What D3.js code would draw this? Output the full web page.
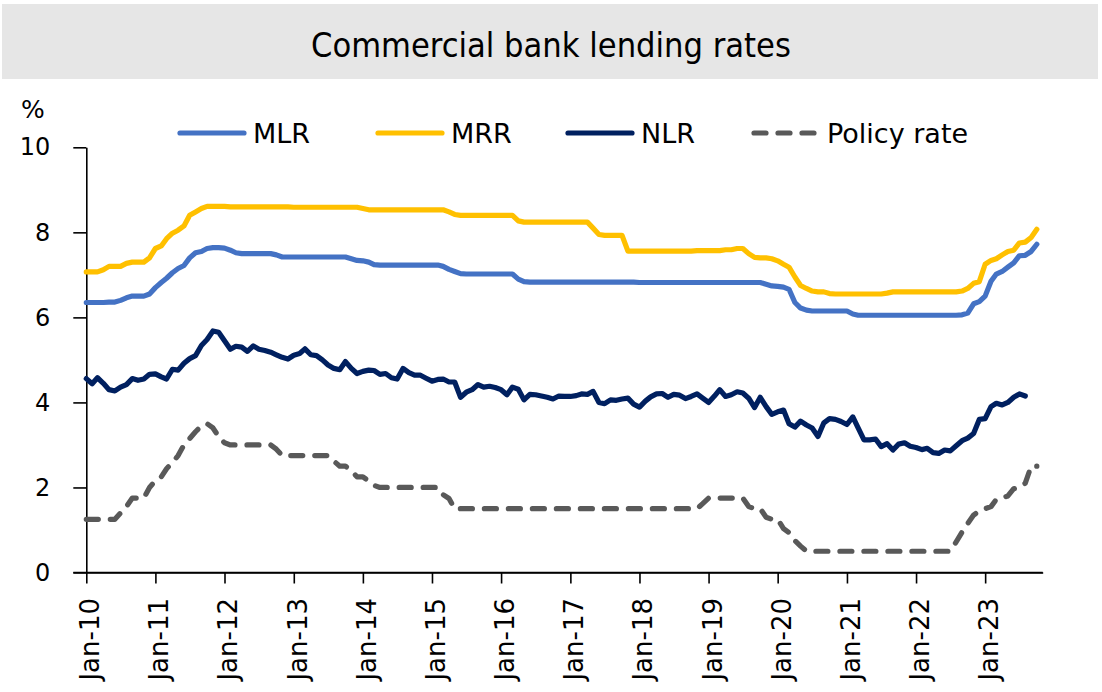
<!DOCTYPE html>
<html><head><meta charset="utf-8">
<script src="https://cdn.jsdelivr.net/npm/d3@7"></script>
<style>
html,body{margin:0;padding:0;background:#fff;}
svg{display:block;}
text{font-family:"DejaVu Sans",sans-serif;fill:#000;}
</style></head><body>
<svg id="chart" width="1102" height="692"></svg>
<script>
// ---------------- DATA ----------------
const chartTitle = "Commercial bank lending rates";
const unitLabel = "%";
const seriesNames = ["MLR", "MRR", "NLR", "Policy rate"];
const yTickValues = [0, 2, 4, 6, 8, 10];
const xTickLabels = ["Jan-10","Jan-11","Jan-12","Jan-13","Jan-14","Jan-15","Jan-16","Jan-17","Jan-18","Jan-19","Jan-20","Jan-21","Jan-22","Jan-23"];
const firstMonth = "2010-01";   // monthly observations start here
const axisEndMonth = "2023-11";

const mlr = [
6.35,6.35,6.35,6.35,6.36,6.36,6.40,6.46,6.50,6.50,6.50,6.55,
6.70,6.82,6.92,7.05,7.15,7.22,7.40,7.52,7.55,7.62,7.64,7.64,
7.63,7.58,7.52,7.50,7.50,7.50,7.50,7.50,7.50,7.47,7.42,7.42,
7.42,7.42,7.42,7.42,7.42,7.42,7.42,7.42,7.42,7.42,7.38,7.34,
7.33,7.30,7.24,7.23,7.23,7.23,7.23,7.23,7.23,7.23,7.23,7.23,
7.23,7.23,7.20,7.13,7.08,7.03,7.02,7.02,7.02,7.02,7.02,7.02,
7.02,7.02,7.02,6.90,6.84,6.83,6.83,6.83,6.83,6.83,6.83,6.83,
6.83,6.83,6.83,6.83,6.83,6.83,6.83,6.83,6.83,6.83,6.83,6.83,
6.82,6.82,6.82,6.82,6.82,6.82,6.82,6.82,6.82,6.82,6.82,6.82,
6.82,6.82,6.82,6.82,6.82,6.82,6.82,6.82,6.82,6.82,6.78,6.74,
6.73,6.71,6.66,6.35,6.22,6.17,6.15,6.15,6.15,6.15,6.15,6.15,
6.15,6.08,6.05,6.05,6.05,6.05,6.05,6.05,6.05,6.05,6.05,6.05,
6.05,6.05,6.05,6.05,6.05,6.05,6.05,6.05,6.06,6.10,6.32,6.37,
6.50,6.85,7.02,7.08,7.18,7.28,7.45,7.46,7.55,7.72
];
const mrr = [
7.07,7.07,7.07,7.12,7.20,7.20,7.20,7.27,7.30,7.30,7.30,7.40,
7.62,7.68,7.85,7.98,8.05,8.15,8.40,8.48,8.56,8.61,8.61,8.61,
8.61,8.60,8.60,8.60,8.60,8.60,8.60,8.60,8.60,8.60,8.60,8.60,
8.59,8.59,8.59,8.59,8.59,8.59,8.59,8.59,8.59,8.59,8.59,8.59,
8.56,8.53,8.53,8.53,8.53,8.53,8.53,8.53,8.53,8.53,8.53,8.53,
8.53,8.53,8.53,8.48,8.42,8.40,8.40,8.40,8.40,8.40,8.40,8.40,
8.40,8.40,8.40,8.27,8.24,8.24,8.24,8.24,8.24,8.24,8.24,8.24,
8.24,8.24,8.24,8.24,8.10,7.95,7.93,7.93,7.93,7.93,7.56,7.56,
7.56,7.56,7.56,7.56,7.56,7.56,7.56,7.56,7.56,7.56,7.57,7.57,
7.57,7.57,7.57,7.59,7.59,7.62,7.62,7.50,7.41,7.40,7.40,7.38,
7.33,7.25,7.18,6.95,6.75,6.68,6.62,6.60,6.60,6.56,6.55,6.55,
6.55,6.55,6.55,6.55,6.55,6.55,6.55,6.57,6.60,6.60,6.60,6.60,
6.60,6.60,6.60,6.60,6.60,6.60,6.60,6.60,6.62,6.68,6.80,6.84,
7.25,7.34,7.38,7.47,7.55,7.58,7.75,7.77,7.88,8.07
];
const nlr = [
4.56,4.44,4.58,4.45,4.30,4.27,4.36,4.42,4.56,4.52,
4.55,4.66,4.67,4.60,4.55,4.78,4.76,4.92,5.03,5.10,
5.34,5.48,5.68,5.65,5.45,5.25,5.32,5.30,5.20,5.33,
5.25,5.22,5.18,5.12,5.06,5.02,5.11,5.15,5.26,5.12,
5.10,5.00,4.88,4.80,4.77,4.96,4.80,4.68,4.73,4.76,
4.75,4.66,4.68,4.58,4.55,4.80,4.70,4.64,4.64,4.57,
4.50,4.54,4.55,4.48,4.48,4.12,4.24,4.30,4.42,4.36,
4.38,4.35,4.30,4.18,4.36,4.31,4.06,4.19,4.18,4.15,
4.12,4.08,4.15,4.14,4.14,4.16,4.20,4.19,4.26,4.00,
3.97,4.06,4.05,4.08,4.10,3.96,3.89,4.03,4.13,4.20,
4.21,4.12,4.19,4.17,4.09,4.14,4.20,4.10,4.00,4.15,
4.30,4.14,4.18,4.25,4.22,4.10,3.88,4.12,3.90,3.72,
3.78,3.82,3.50,3.42,3.56,3.47,3.40,3.20,3.52,3.62,
3.60,3.55,3.48,3.66,3.40,3.12,3.12,3.14,2.96,3.03,
2.88,3.02,3.05,2.97,2.94,2.89,2.92,2.82,2.80,2.88,
2.86,2.98,3.10,3.16,3.27,3.60,3.62,3.90,3.98,3.94,
4.00,4.12,4.20,4.15
];
const policyRate = [
1.25,1.25,1.25,1.25,1.25,1.25,1.40,1.55,1.75,1.75,1.75,2.00,
2.16,2.25,2.44,2.59,2.75,3.00,3.15,3.31,3.45,3.50,3.40,3.20,
3.05,3.00,3.00,3.00,3.00,3.00,3.00,3.00,3.00,2.90,2.75,2.75,
2.75,2.75,2.75,2.75,2.75,2.75,2.75,2.62,2.50,2.50,2.40,2.25,
2.25,2.15,2.05,2.00,2.00,2.00,2.00,2.00,2.00,2.00,2.00,2.00,
2.00,2.00,1.83,1.74,1.50,1.50,1.50,1.50,1.50,1.50,1.50,1.50,
1.50,1.50,1.50,1.50,1.50,1.50,1.50,1.50,1.50,1.50,1.50,1.50,
1.50,1.50,1.50,1.50,1.50,1.50,1.50,1.50,1.50,1.50,1.50,1.50,
1.50,1.50,1.50,1.50,1.50,1.50,1.50,1.50,1.50,1.50,1.50,1.62,
1.75,1.75,1.75,1.75,1.75,1.75,1.75,1.55,1.50,1.50,1.30,1.25,
1.25,1.03,0.94,0.75,0.62,0.50,0.50,0.50,0.50,0.50,0.50,0.50,
0.50,0.50,0.50,0.50,0.50,0.50,0.50,0.50,0.50,0.50,0.50,0.50,
0.50,0.50,0.50,0.50,0.50,0.50,0.50,0.72,0.95,1.15,1.35,1.45,
1.50,1.55,1.72,1.75,1.80,1.97,2.00,2.10,2.50,2.50
];

// ---------------- STYLE / LAYOUT ----------------
const colors = ["#4472C4", "#FFC000", "#002060", "#595959"];
const dashes = [null, null, null, "12,12"];
const plot = {left: 86.3, right: 1042.7, top: 147.3, bottom: 572.5};

const svg = d3.select("#chart");
const parseMonth = d3.timeParse("%Y-%m");
const t0 = parseMonth(firstMonth);
const monthDate = i => d3.timeMonth.offset(t0, i);

const x = d3.scaleTime().domain([t0, parseMonth(axisEndMonth)]).range([plot.left, plot.right]);
const y = d3.scaleLinear().domain([0, 10]).range([plot.bottom, plot.top]);

// title band
svg.append("rect").attr("x", 2).attr("y", 4).attr("width", 1096).attr("height", 75).attr("fill", "#E6E6E6");
const titleText = svg.append("text").attr("x", 551).attr("y", 57).attr("text-anchor", "middle")
  .style("font-family", "'DejaVu Sans Condensed','DejaVu Sans',sans-serif")
  .style("font-size", "30px").text(chartTitle);
{ const w = titleText.node().getComputedTextLength(); titleText.style("font-size", (30 * 480 / w) + "px"); }

// unit
svg.append("text").attr("x", 21).attr("y", 118).style("font-size", "25px").text(unitLabel);

// y axis
const yAxis = svg.append("g").attr("transform", `translate(${plot.left},0)`)
  .call(d3.axisLeft(y).tickValues(yTickValues).tickSize(13).tickSizeOuter(0).tickPadding(23).tickFormat(d3.format("d")));
yAxis.selectAll("text").style("font-size", "24px").attr("fill", "#000").style("font-family", "'DejaVu Sans',sans-serif");
yAxis.selectAll("line,path").attr("stroke", "#000").attr("stroke-width", 1.6);

// x axis
const yearTicks = xTickLabels.map((d, i) => d3.timeYear.offset(t0, i));
const xAxis = svg.append("g").attr("transform", `translate(0,${plot.bottom})`)
  .call(d3.axisBottom(x).tickValues(yearTicks).tickSize(11).tickSizeOuter(0).tickFormat(""));
xAxis.selectAll("line,path").attr("stroke", "#000").attr("stroke-width", 1.6);
svg.append("line").attr("x1", plot.left - 13).attr("x2", plot.right).attr("y1", plot.bottom).attr("y2", plot.bottom)
  .attr("stroke", "#000").attr("stroke-width", 1.6);
svg.append("g").selectAll("text").data(yearTicks).join("text")
  .attr("transform", (d) => `translate(${x(d) + 13},598) rotate(-90)`)
  .attr("text-anchor", "end").style("font-size", "26px")
  .text((d, i) => xTickLabels[i]);

// lines
const seriesData = [mlr, mrr, nlr, policyRate];
const line = d3.line().x((d, i) => x(monthDate(i))).y(d => y(d));
const drawOrder = [3, 0, 1, 2];
drawOrder.forEach(k => {
  svg.append("path").datum(seriesData[k]).attr("d", line)
    .attr("fill", "none").attr("stroke", colors[k]).attr("stroke-width", 5.2)
    .attr("stroke-linejoin", "round").attr("stroke-linecap", "round")
    .attr("stroke-dasharray", dashes[k]);
});

// legend
const legendX = [178, 376, 566, 752];
const legendY = 133;
seriesNames.forEach((name, k) => {
  const g = svg.append("g");
  g.append("line").attr("x1", legendX[k] + 2).attr("x2", legendX[k] + 66).attr("y1", legendY).attr("y2", legendY)
    .attr("stroke", colors[k]).attr("stroke-width", 5.2).attr("stroke-linecap", "round")
    .attr("stroke-dasharray", dashes[k]);
  g.append("text").attr("x", legendX[k] + 75).attr("y", legendY).attr("dy", "0.36em")
    .style("font-size", "27px").text(name);
});
</script>
</body></html>
